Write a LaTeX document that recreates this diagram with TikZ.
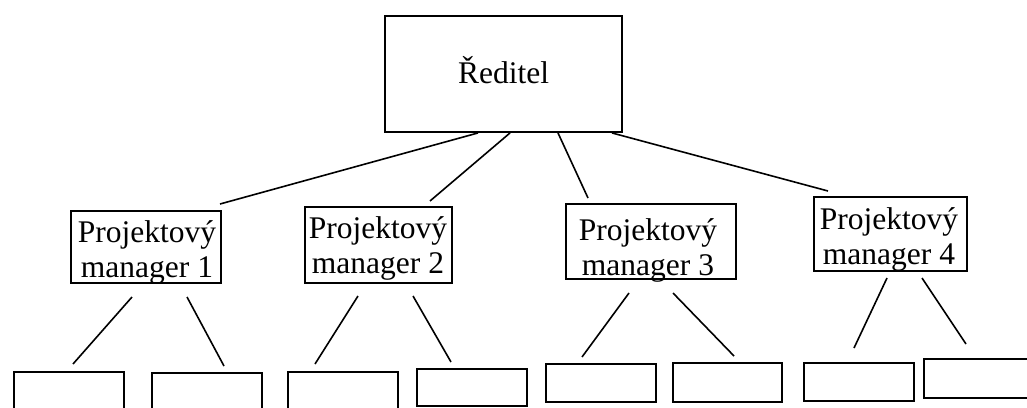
\documentclass[tikz,border=0pt]{standalone}
\usepackage{fontspec}
\setmainfont{Liberation Serif}
\begin{document}
\begin{tikzpicture}[x=1pt,y=-1pt,
  frame/.style={draw, line width=1.9pt, inner sep=0pt},
  leaf/.style={draw, line width=1.8pt, inner sep=0pt, minimum width=110pt},
  caption/.style={inner sep=0pt, align=center, font=\fontsize{31.5}{35}\selectfont},
  link/.style={line width=1.6pt}]
\clip (0,0) rectangle (1027,407);

% director
\node[frame, minimum width=237pt, minimum height=116pt] (red) at (503.5,74) {};
\node[caption, anchor=base] (redt) at (503.5,83) {Ředitel};

% project managers
\node[frame, minimum width=150pt, minimum height=72pt] (pm1) at (146,247) {};
\node[frame, minimum width=147pt, minimum height=76pt] (pm2) at (378.5,245) {};
\node[frame, minimum width=170pt, minimum height=75pt] (pm3) at (651,241.5) {};
\node[frame, minimum width=153pt, minimum height=74pt] (pm4) at (890.5,234) {};
\node[caption] (pm1t) at (147,252) {Projektový\\manager 1};
\node[caption] (pm2t) at (378,248) {Projektový\\manager 2};
\node[caption] (pm3t) at (648,250) {Projektový\\manager 3};
\node[caption] (pm4t) at (889,239) {Projektový\\manager 4};

% empty subordinate boxes
\node[leaf, minimum height=58pt] (b1) at (69,401) {};
\node[leaf, minimum height=57pt] (b2) at (207,401.5) {};
\node[leaf, minimum height=58pt] (b3) at (343,401) {};
\node[leaf, minimum height=37pt] (b4) at (472,387.5) {};
\node[leaf, minimum height=38pt] (b5) at (601,383) {};
\node[leaf, minimum height=39pt, minimum width=109pt] (b6) at (727.5,382.5) {};
\node[leaf, minimum height=38pt] (b7) at (859,382) {};
\node[leaf, minimum height=39pt] (b8) at (979,378.5) {};

% line ends just short of the boxes
\coordinate (e1) at (220,204);
\coordinate (e2) at (430,201);
\coordinate (e3) at (588,198);
\coordinate (e4) at (828,191);

\draw[link] ([xshift=-25.5pt]red.south) -- (e1);
\draw[link] ([xshift=6.5pt]red.south) -- (e2);
\draw[link] ([xshift=54.5pt]red.south) -- (e3);
\draw[link] ([xshift=108.5pt]red.south) -- (e4);

% lines below the managers
\coordinate (p1a) at (132,297); \coordinate (q1a) at (73,364);
\coordinate (p1b) at (187,297); \coordinate (q1b) at (224,366);
\coordinate (p2a) at (358,296); \coordinate (q2a) at (315,364);
\coordinate (p2b) at (413,296); \coordinate (q2b) at (451,362);
\coordinate (p3a) at (629,293); \coordinate (q3a) at (582,357);
\coordinate (p3b) at (673,293); \coordinate (q3b) at (734,356);
\coordinate (p4a) at (887,278); \coordinate (q4a) at (854,348);
\coordinate (p4b) at (922,278); \coordinate (q4b) at (966,344);

\draw[link] (p1a) -- (q1a);
\draw[link] (p1b) -- (q1b);
\draw[link] (p2a) -- (q2a);
\draw[link] (p2b) -- (q2b);
\draw[link] (p3a) -- (q3a);
\draw[link] (p3b) -- (q3b);
\draw[link] (p4a) -- (q4a);
\draw[link] (p4b) -- (q4b);
\end{tikzpicture}
\end{document}
